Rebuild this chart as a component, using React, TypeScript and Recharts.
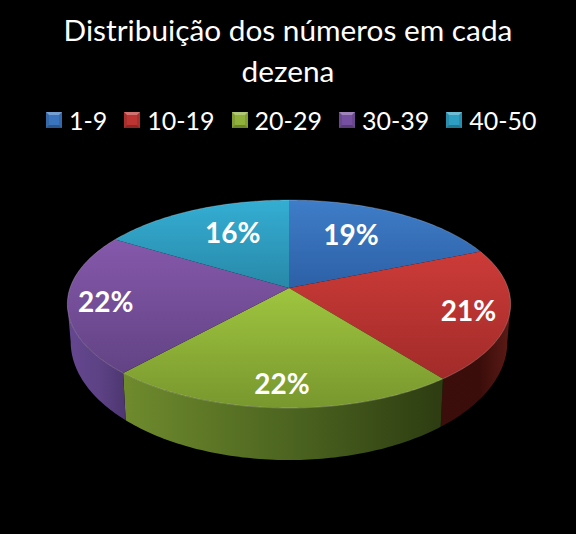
import { Legend, Pie, PieChart } from "recharts";

const categories = ["1-9", "10-19", "20-29", "30-39", "40-50"];
const shares = [18.8, 20.6, 22.3, 21.9, 16.4];
const colors = ["#3a74bd", "#bd3533", "#8fb03a", "#7650a0", "#2e9fc2"];

const rows = categories.map((name, i) => ({ name, value: shares[i], fill: colors[i] }));

// top face gradient, top colour / bottom colour
const topStops = [
  ["#3f7dc8", "#2c60a6"],
  ["#cc3b38", "#a12b29"],
  ["#9fc53f", "#78972e"],
  ["#8558ab", "#624384"],
  ["#34aed3", "#2888a8"],
];
// side wall gradient, left to right
const wallStops = [
  ["#2c60a6", "#2c60a6", "#2c60a6"],
  ["#3a0e0b", "#3a0d0a", "#5c1b16"],
  ["#6f8b2d", "#4a621f", "#2d3c11"],
  ["#654790", "#5d4285", "#4d3670"],
  ["#2888a8", "#2888a8", "#2888a8"],
];
const labelReach = [0.657, 0.82, 0.82, 0.83, 0.664];
const labelTurn = [-5.8, 0, 0, 0, 4.5];

const TILT = 0.4635;
const PERSP = 0.154;
const WALL_FROM = 98.9;
const WALL_TO = 261.1;

// clockwise degrees from 12 o'clock -> tilted disc
function project(cx: number, cy: number, r: number, theta: number, reach = 1) {
  const rad = (theta * Math.PI) / 180;
  const u = Math.sin(rad) * reach;
  const v = Math.cos(rad) * reach;
  const w = 1 + PERSP * v;
  return { x: (r * u) / w + cx, y: cy - (r * TILT * v) / w };
}

function projectBottom(cx: number, cy: number, r: number, theta: number) {
  const p = project(cx, cy, r, theta);
  return { x: cx + (p.x - cx) * 0.985, y: cy + (p.y - cy) * 1.138 + 35.5 };
}

function arcPoints(from: number, to: number, fn: (t: number) => { x: number; y: number }) {
  const out = [];
  const n = Math.max(2, Math.ceil(Math.abs(to - from)));
  for (let i = 0; i <= n; i++) {
    const p = fn(from + ((to - from) * i) / n);
    out.push(`${p.x.toFixed(2)} ${p.y.toFixed(2)}`);
  }
  return out;
}

function TopSlice(props: any) {
  const { cx, cy, outerRadius, startAngle, endAngle, index } = props;
  const a = 90 - startAngle;
  const b = 90 - endAngle;
  const edge = arcPoints(a, b, (t) => project(cx, cy, outerRadius, t));
  return (
    <g>
      <path d={`M${cx} ${cy}L${edge.join("L")}Z`} fill={`url(#top${index})`} />
      <path d={`M${edge.join("L")}`} fill="none" stroke="#ffffff" strokeOpacity={0.22} strokeWidth={1} />
    </g>
  );
}

function WallSlice(props: any) {
  const { cx, cy, outerRadius, startAngle, endAngle, index } = props;
  const a = Math.max(90 - startAngle, WALL_FROM);
  const b = Math.min(90 - endAngle, WALL_TO);
  if (b <= a) return null;
  const upper = arcPoints(a, b, (t) => project(cx, cy, outerRadius, t));
  const lower = arcPoints(b, a, (t) => projectBottom(cx, cy, outerRadius, t));
  return <path d={`M${upper.join("L")}L${lower.join("L")}Z`} fill={`url(#wall${index})`} />;
}

function sliceLabel(props: any) {
  const { cx, cy, outerRadius, midAngle, percent, index } = props;
  const p = project(cx, cy, outerRadius, 90 - midAngle + labelTurn[index], labelReach[index]);
  return (
    <text
      x={p.x}
      y={p.y}
      fill="#ffffff"
      textAnchor="middle"
      dominantBaseline="central"
      style={{ fontFamily: "Lato", fontWeight: 700, fontSize: 28 }}
    >
      {`${Math.round(percent * 100)}%`}
    </text>
  );
}

function Swatch({ color }: { color: string }) {
  return (
    <svg width={16} height={16} style={{ display: "block", flex: "none" }}>
      <rect width={16} height={16} fill={color} />
      <polygon points="0,0 16,0 13,3 3,3" fill="#ffffff" fillOpacity={0.3} />
      <polygon points="0,16 16,16 13,13 3,13" fill="#000000" fillOpacity={0.25} />
      <polygon points="0,0 3,3 3,13 0,16" fill="#000000" fillOpacity={0.1} />
      <polygon points="16,0 13,3 13,13 16,16" fill="#000000" fillOpacity={0.1} />
    </svg>
  );
}

function LegendRow({ payload }: any) {
  const seen = new Set();
  const items = (payload ?? []).filter((entry: any) => {
    if (seen.has(entry.value)) return false;
    seen.add(entry.value);
    return true;
  });
  return (
    <div style={{ display: "flex", fontFamily: "Lato", fontSize: 25, lineHeight: "30px", color: "#fff", whiteSpace: "nowrap" }}>
      {items.map((entry: any) => (
        <div key={entry.value} style={{ display: "flex", alignItems: "center", gap: 7, marginRight: 17, flex: "none" }}>
          <Swatch color={entry.color} />
          <span>{entry.value}</span>
        </div>
      ))}
    </div>
  );
}

export default function App() {
  return (
    <div style={{ position: "absolute", left: 0, top: 0, width: 576, height: 534, background: "#000", overflow: "hidden" }}>
      <style>{"body{margin:0;background:#000}"}</style>
      <div
        style={{
          position: "absolute",
          left: 0,
          top: 9,
          width: 576,
          textAlign: "center",
          color: "#fff",
          fontFamily: "Lato",
          fontSize: 29.8,
          lineHeight: "41px",
        }}
      >
        Distribuição dos números em cada
        <br />
        dezena
      </div>
      <PieChart width={576} height={534} margin={{ top: 0, right: 0, bottom: 0, left: 0 }}>
        <defs>
          {topStops.map((s, i) => (
            <linearGradient key={i} id={`top${i}`} x1="0" y1="0" x2="0" y2="1">
              <stop offset="0%" stopColor={s[0]} />
              <stop offset="100%" stopColor={s[1]} />
            </linearGradient>
          ))}
          {wallStops.map((s, i) => (
            <linearGradient key={i} id={`wall${i}`} x1="0" y1="0" x2="1" y2="0">
              <stop offset="0%" stopColor={s[0]} />
              <stop offset="55%" stopColor={s[1]} />
              <stop offset="100%" stopColor={s[2]} />
            </linearGradient>
          ))}
        </defs>
        <Legend
          content={<LegendRow />}
          wrapperStyle={{ position: "absolute", left: 46, top: 105, width: 530, height: 30 }}
        />
        <Pie
          data={rows}
          dataKey="value"
          nameKey="name"
          cx={289}
          cy={288}
          outerRadius={219}
          startAngle={90}
          endAngle={-270}
          stroke="none"
          legendType="none"
          shape={WallSlice}
          isAnimationActive={false}
        />
        <Pie
          data={rows}
          dataKey="value"
          nameKey="name"
          cx={289}
          cy={288}
          outerRadius={219}
          startAngle={90}
          endAngle={-270}
          stroke="none"
          shape={TopSlice}
          label={sliceLabel}
          labelLine={false}
          isAnimationActive={false}
        />
      </PieChart>
    </div>
  );
}
